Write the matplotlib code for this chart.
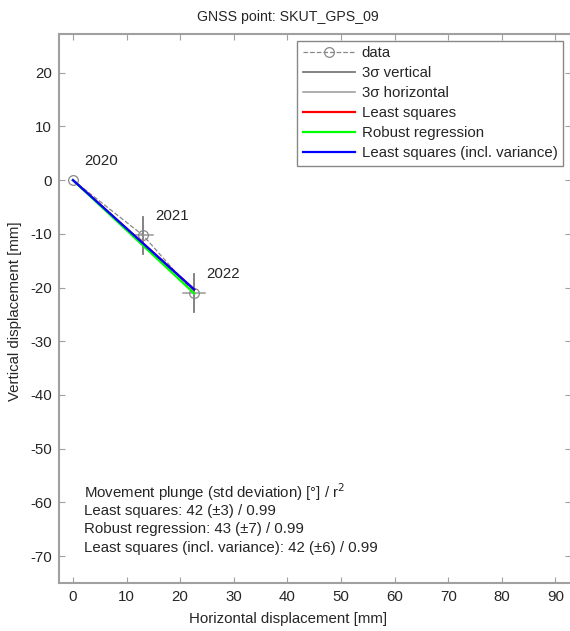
import matplotlib
matplotlib.use("Agg")
import matplotlib.pyplot as plt
import numpy as np

# GNSS point displacement data
years = ["2020", "2021", "2022"]
horiz = [0.0, 13.1, 22.6]        # horizontal displacement [mm]
vert = [0.0, -10.3, -21.0]       # vertical displacement [mm]
sig3_vert = [0.0, 3.5, 3.6]      # 3 sigma vertical [mm]
sig3_horiz = [0.0, 1.9, 2.0]     # 3 sigma horizontal [mm]

# Fitted movement plunges [deg], std deviations and r^2
fit_names = ["Least squares", "Robust regression", "Least squares (incl. variance)"]
fit_plunge = [42, 43, 42]
fit_std = [3, 7, 6]
fit_r2 = [0.99, 0.99, 0.99]
fit_colors = ["#ff0000", "#00ff00", "#0000ff"]

plt.rcParams["font.family"] = ["Liberation Sans", "DejaVu Sans"]
plt.rcParams["axes.unicode_minus"] = False
txt_color = "#262626"
spine_color = "#a0a0a0"
fs = 10.8

W, H = 570, 631
fig = plt.figure(figsize=(W / 100, H / 100), dpi=100)
ax = fig.add_axes([59 / W, 1 - 583 / H, 512 / W, (583 - 34) / H])

# data with dashed connection line
ax.plot(horiz, vert, linestyle="--", color="#888888", lw=0.9, marker="o",
        markersize=7, markerfacecolor="none", markeredgecolor="#888888",
        markeredgewidth=0.9, label="data", zorder=3)

# 3 sigma error crosses
for i, (x, y, sv) in enumerate(zip(horiz, vert, sig3_vert)):
    ax.plot([x, x], [y - sv, y + sv], color="#7a7a7a", lw=1.3,
            label="3\u03c3 vertical" if i == 0 else None, zorder=2)
for i, (x, y, sh) in enumerate(zip(horiz, vert, sig3_horiz)):
    ax.plot([x - sh, x + sh], [y, y], color="#999999", lw=1.1,
            label="3\u03c3 horizontal" if i == 0 else None, zorder=2)

# regression lines through the origin
xfit = np.array([horiz[0], horiz[-1]])
for name, p, c in zip(fit_names, fit_plunge, fit_colors):
    ax.plot(xfit, -np.tan(np.radians(p)) * xfit, color=c, lw=1.6, label=name, zorder=4)

# year labels
for x, y, yr in zip(horiz, vert, years):
    ax.text(x + 2.2, y + 3.6, yr, fontsize=fs, color=txt_color, ha="left", va="center")

ax.set_xlim(-2.6, 92.9)
ax.set_ylim(-75.0, 27.2)
ax.set_xticks(np.arange(0, 91, 10))
ax.set_yticks(np.arange(-70, 21, 10))
ax.tick_params(direction="in", length=4, color=spine_color, labelcolor=txt_color,
               labelsize=fs, top=True, right=True, width=0.8, pad=5)
for s in ax.spines.values():
    s.set_color(spine_color)
    s.set_linewidth(1.5)

# summary text
lines = ["Movement plunge (std deviation) [\u00b0] / r$^2$"]
for name, p, sd, r2 in zip(fit_names, fit_plunge, fit_std, fit_r2):
    lines.append(f"{name}: {p} (\u00b1{sd}) / {r2:.2f}")
for i, t in enumerate(lines):
    fig.text(84 / W, 1 - (492 + 18.7 * i) / H, t, fontsize=fs, color=txt_color,
             ha="left", va="center")

fig.text(288 / W, 1 - 17 / H, "GNSS point: SKUT_GPS_09", fontsize=10.2, color=txt_color,
         ha="center", va="center")
fig.text(288 / W, 1 - 619 / H, "Horizontal displacement [mm]", fontsize=fs, color=txt_color,
         ha="center", va="center")
fig.text(15 / W, 1 - 311 / H, "Vertical displacement [mm]", fontsize=fs, color=txt_color,
         ha="center", va="center", rotation=90)

leg = ax.legend(loc="upper right", bbox_to_anchor=(563 / W, 1 - 41 / H),
                bbox_transform=fig.transFigure, borderaxespad=0, fontsize=fs,
                frameon=True, fancybox=False, edgecolor="#888888", framealpha=1,
                handlelength=3.5, handletextpad=0.45, labelspacing=0.4,
                borderpad=0.35)
leg.get_frame().set_linewidth(1.0)
for t in leg.get_texts():
    t.set_color(txt_color)

fig.savefig("out.png", dpi=100)
